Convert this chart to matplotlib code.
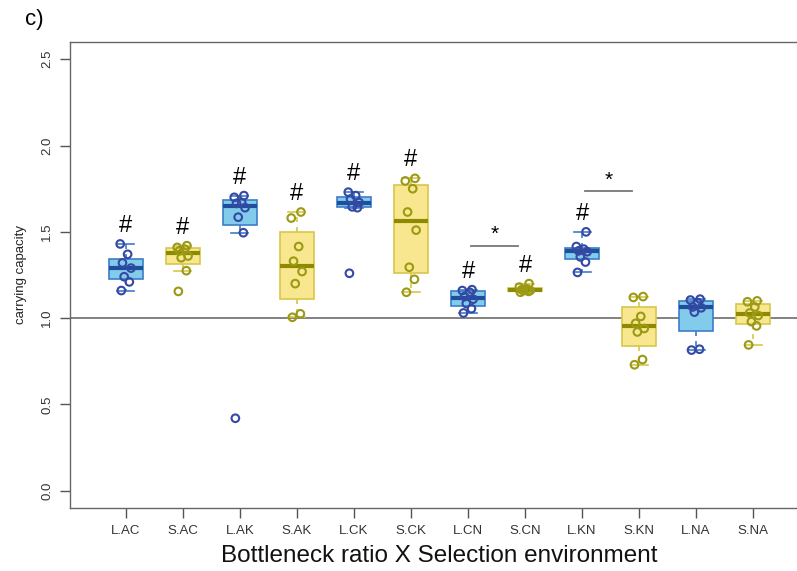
import numpy as np
import matplotlib
matplotlib.use("Agg")
import matplotlib.pyplot as plt

plt.rcParams['font.family'] = ['Liberation Sans', 'DejaVu Sans']

# groups and measured carrying capacity per replicate
groups = ['L.AC', 'S.AC', 'L.AK', 'S.AK', 'L.CK', 'S.CK',
          'L.CN', 'S.CN', 'L.KN', 'S.KN', 'L.NA', 'S.NA']
l_ac = [1.16, 1.21, 1.24, 1.29, 1.32, 1.37, 1.43]
s_ac = [1.155, 1.275, 1.35, 1.36, 1.39, 1.40, 1.41, 1.42]
l_ak = [0.42, 1.495, 1.585, 1.64, 1.665, 1.67, 1.70, 1.71]
s_ak = [1.005, 1.025, 1.20, 1.27, 1.33, 1.415, 1.58, 1.615]
l_ck = [1.26, 1.64, 1.645, 1.67, 1.69, 1.71, 1.73]
s_ck = [1.15, 1.225, 1.295, 1.51, 1.615, 1.75, 1.795, 1.81]
l_cn = [1.03, 1.055, 1.085, 1.11, 1.125, 1.15, 1.16, 1.165]
s_cn = [1.15, 1.155, 1.16, 1.16, 1.165, 1.17, 1.18, 1.20]
l_kn = [1.265, 1.325, 1.355, 1.385, 1.39, 1.40, 1.415, 1.50]
s_kn = [0.73, 0.76, 0.92, 0.94, 0.97, 1.01, 1.12, 1.125]
l_na = [0.815, 0.82, 1.035, 1.06, 1.065, 1.09, 1.105, 1.11]
s_na = [0.845, 0.955, 0.98, 1.015, 1.03, 1.065, 1.095, 1.10]
data = [l_ac, s_ac, l_ak, s_ak, l_ck, s_ck, l_cn, s_cn, l_kn, s_kn, l_na, s_na]

# '#' marks (differs from ancestor) and '*' pairs (L vs S)
hash_groups = ['L.AC', 'S.AC', 'L.AK', 'S.AK', 'L.CK', 'S.CK', 'L.CN', 'S.CN', 'L.KN']
star_pairs = [('L.CN', 'S.CN', 1.42), ('L.KN', 'S.KN', 1.735)]

blue = dict(fill='#82cbea', edge='#3d7dc8', med='#1f4f9c', pt='#3548a3')
yellow = dict(fill='#f8e78e', edge='#d8c64c', med='#8c8a00', pt='#9c9a14')


def r_boxstats(x):
    # R style fivenum hinges and 1.5*IQR whiskers
    x = np.sort(np.asarray(x, float))
    n = len(x)
    n4 = np.floor((n + 3) / 2) / 2
    d = np.array([1, n4, (n + 1) / 2, n + 1 - n4, n]) - 1
    f = 0.5 * (x[np.floor(d).astype(int)] + x[np.ceil(d).astype(int)])
    iqr = f[3] - f[1]
    lo = x[x >= f[1] - 1.5 * iqr].min()
    hi = x[x <= f[3] + 1.5 * iqr].max()
    return dict(q1=f[1], med=f[2], q3=f[3], whislo=lo, whishi=hi, fliers=[])


fig = plt.figure(figsize=(7.97, 5.71), dpi=100)
ax = fig.add_axes([70 / 797, 63 / 571, 739 / 797, 466 / 571])

jit = [-0.08, 0.06, -0.03, 0.09, -0.06, 0.03, -0.1, 0.07]

for i, vals in enumerate(data):
    pos = i + 1
    c = blue if groups[i].startswith('L') else yellow
    st = r_boxstats(vals)
    ax.bxp([st], positions=[pos], widths=0.6, patch_artist=True, showfliers=False,
           boxprops=dict(facecolor=c['fill'], edgecolor=c['edge'], linewidth=1.2),
           medianprops=dict(color=c['med'], linewidth=3),
           whiskerprops=dict(color=c['edge'], linewidth=1.2, linestyle=(0, (3, 3))),
           capprops=dict(color=c['edge'], linewidth=1.2),
           capwidths=0.3, zorder=2)
    xs = [pos + jit[k % len(jit)] for k in range(len(vals))]
    ax.scatter(xs, vals, s=30, facecolors='none', edgecolors=c['pt'],
               linewidths=1.5, zorder=3)
    if groups[i] in hash_groups:
        ax.text(pos, max(vals) + 0.04, '#', ha='center', va='bottom',
                fontsize=17, color='black')

for a, b, y in star_pairs:
    ia, ib = groups.index(a) + 1, groups.index(b) + 1
    ax.plot([ia + 0.05, ib - 0.12], [y, y], color='#777777', lw=1.3)
    ax.text((ia + ib) / 2 - 0.04, y + 0.01, '*', ha='center', va='bottom',
            fontsize=15, color='black')

ax.axhline(1.0, color='#777777', lw=1.3, zorder=1)

ax.set_xlim(0.02, 12.98)
ax.set_ylim(-0.1, 2.6)
ax.set_xticks(range(1, 13))
ax.set_xticklabels(groups, fontsize=9.5, color='#333333')
ax.set_yticks([0.0, 0.5, 1.0, 1.5, 2.0, 2.5])
ax.set_yticklabels(['0.0', '0.5', '1.0', '1.5', '2.0', '2.5'], rotation=90,
                   va='center', fontsize=9.5, color='#333333')
ax.tick_params(length=7, width=1, color='#555555', pad=5)
for sp in ax.spines.values():
    sp.set_color('#666666')
    sp.set_linewidth(1)

ax.set_ylabel('carrying capacity', fontsize=9.5, color='#222222', labelpad=10)
ax.set_xlabel('Bottleneck ratio X Selection environment', fontsize=17.5,
              color='#111111', labelpad=6)
fig.text(25 / 797, 1 - 20 / 571, 'c)', fontsize=16, va='center', ha='left')

fig.savefig('out.png', dpi=100)
